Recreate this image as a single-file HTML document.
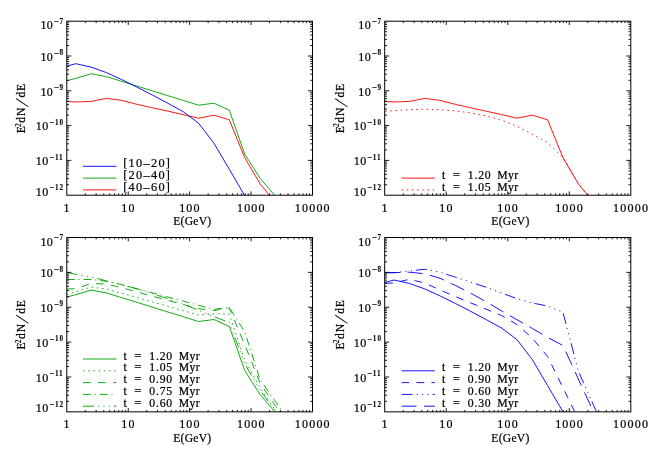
<!DOCTYPE html>
<html lang="en"><head><meta charset="utf-8"><title>E2dN/dE spectra</title>
<style>html,body{margin:0;padding:0;background:#fff}body{width:651px;height:454px;overflow:hidden}svg{display:block;will-change:transform}text{font-family:"Liberation Serif",serif;fill:#000000;stroke:#000000;stroke-width:0.22px}.s{font-weight:bold;stroke-width:0.1px}</style>
</head><body>
<svg width="651" height="454" viewBox="0 0 651 454">
<rect width="651" height="454" fill="#fff"/>
<g>
<clipPath id="c00"><rect x="66.8" y="21.2" width="245.7" height="174"/></clipPath>
<g clip-path="url(#c00)">
<path d="M66.8 101.4 L75.7 102 L91.06 101.4 L106.42 98.4 L121.78 100.4 L137.14 104.4 L152.5 107.8 L167.86 111.2 L183.22 114.6 L198.58 118.2 L213.94 115.2 L229.3 119.8 L244.66 157.6 L260.02 183.8 L275.38 202.6 L290.74 221.4" fill="none" stroke="#ff0000" stroke-width="0.92" stroke-linejoin="round"/>
<path d="M66.8 80.8 L75.7 78.4 L91.06 73.8 L106.42 76.6 L121.78 81.4 L137.14 86.1 L152.5 90.9 L167.86 95.7 L183.22 100.4 L198.58 105.2 L213.94 103.2 L229.3 110.2 L244.66 154.1 L260.02 178.2 L275.38 196.2 L290.74 214.2" fill="none" stroke="#00a400" stroke-width="0.92" stroke-linejoin="round"/>
<path d="M66.8 66.1 L75.7 63.7 L91.06 67.1 L106.42 72.6 L121.78 79.6 L137.14 87.2 L152.5 95.1 L167.86 103.3 L183.22 111.7 L198.58 123.2 L213.94 143.2 L229.3 169.3 L244.66 195.5 L260.02 221.7" fill="none" stroke="#0000ff" stroke-width="0.92" stroke-linejoin="round"/>
</g>
<path d="M85.29 195.2v-1.9M85.29 21.2v1.9M96.11 195.2v-1.9M96.11 21.2v1.9M103.78 195.2v-1.9M103.78 21.2v1.9M109.73 195.2v-1.9M109.73 21.2v1.9M114.6 195.2v-1.9M114.6 21.2v1.9M118.71 195.2v-1.9M118.71 21.2v1.9M122.27 195.2v-1.9M122.27 21.2v1.9M125.41 195.2v-1.9M125.41 21.2v1.9M128.22 195.2v-3.8M128.22 21.2v3.8M146.72 195.2v-1.9M146.72 21.2v1.9M157.53 195.2v-1.9M157.53 21.2v1.9M165.21 195.2v-1.9M165.21 21.2v1.9M171.16 195.2v-1.9M171.16 21.2v1.9M176.02 195.2v-1.9M176.02 21.2v1.9M180.14 195.2v-1.9M180.14 21.2v1.9M183.7 195.2v-1.9M183.7 21.2v1.9M186.84 195.2v-1.9M186.84 21.2v1.9M189.65 195.2v-3.8M189.65 21.2v3.8M208.14 195.2v-1.9M208.14 21.2v1.9M218.96 195.2v-1.9M218.96 21.2v1.9M226.63 195.2v-1.9M226.63 21.2v1.9M232.58 195.2v-1.9M232.58 21.2v1.9M237.45 195.2v-1.9M237.45 21.2v1.9M241.56 195.2v-1.9M241.56 21.2v1.9M245.12 195.2v-1.9M245.12 21.2v1.9M248.26 195.2v-1.9M248.26 21.2v1.9M251.07 195.2v-3.8M251.07 21.2v3.8M269.57 195.2v-1.9M269.57 21.2v1.9M280.38 195.2v-1.9M280.38 21.2v1.9M288.06 195.2v-1.9M288.06 21.2v1.9M294.01 195.2v-1.9M294.01 21.2v1.9M298.87 195.2v-1.9M298.87 21.2v1.9M302.99 195.2v-1.9M302.99 21.2v1.9M306.55 195.2v-1.9M306.55 21.2v1.9M309.69 195.2v-1.9M309.69 21.2v1.9M66.8 184.72h2.3M312.5 184.72h-2.3M66.8 178.6h2.3M312.5 178.6h-2.3M66.8 174.25h2.3M312.5 174.25h-2.3M66.8 170.88h2.3M312.5 170.88h-2.3M66.8 168.12h2.3M312.5 168.12h-2.3M66.8 165.79h2.3M312.5 165.79h-2.3M66.8 163.77h2.3M312.5 163.77h-2.3M66.8 161.99h2.3M312.5 161.99h-2.3M66.8 160.4h4.5M312.5 160.4h-4.5M66.8 149.92h2.3M312.5 149.92h-2.3M66.8 143.8h2.3M312.5 143.8h-2.3M66.8 139.45h2.3M312.5 139.45h-2.3M66.8 136.08h2.3M312.5 136.08h-2.3M66.8 133.32h2.3M312.5 133.32h-2.3M66.8 130.99h2.3M312.5 130.99h-2.3M66.8 128.97h2.3M312.5 128.97h-2.3M66.8 127.19h2.3M312.5 127.19h-2.3M66.8 125.6h4.5M312.5 125.6h-4.5M66.8 115.12h2.3M312.5 115.12h-2.3M66.8 109h2.3M312.5 109h-2.3M66.8 104.65h2.3M312.5 104.65h-2.3M66.8 101.28h2.3M312.5 101.28h-2.3M66.8 98.52h2.3M312.5 98.52h-2.3M66.8 96.19h2.3M312.5 96.19h-2.3M66.8 94.17h2.3M312.5 94.17h-2.3M66.8 92.39h2.3M312.5 92.39h-2.3M66.8 90.8h4.5M312.5 90.8h-4.5M66.8 80.32h2.3M312.5 80.32h-2.3M66.8 74.2h2.3M312.5 74.2h-2.3M66.8 69.85h2.3M312.5 69.85h-2.3M66.8 66.48h2.3M312.5 66.48h-2.3M66.8 63.72h2.3M312.5 63.72h-2.3M66.8 61.39h2.3M312.5 61.39h-2.3M66.8 59.37h2.3M312.5 59.37h-2.3M66.8 57.59h2.3M312.5 57.59h-2.3M66.8 56h4.5M312.5 56h-4.5M66.8 45.52h2.3M312.5 45.52h-2.3M66.8 39.4h2.3M312.5 39.4h-2.3M66.8 35.05h2.3M312.5 35.05h-2.3M66.8 31.68h2.3M312.5 31.68h-2.3M66.8 28.92h2.3M312.5 28.92h-2.3M66.8 26.59h2.3M312.5 26.59h-2.3M66.8 24.57h2.3M312.5 24.57h-2.3M66.8 22.79h2.3M312.5 22.79h-2.3" fill="none" stroke="#000000" stroke-width="0.9"/>
<rect x="66.8" y="21.2" width="245.7" height="174" fill="none" stroke="#000000" stroke-width="1.0"/>
<text x="40.47" y="29.2" font-size="12" letter-spacing="0.4">10</text>
<text x="53.8" y="24" font-size="7.2" textLength="5.0" lengthAdjust="spacingAndGlyphs" class="s">−</text>
<text x="59.5" y="23.7" font-size="7.2" letter-spacing="1" class="s">7</text>
<text x="40.47" y="60.7" font-size="12" letter-spacing="0.4">10</text>
<text x="53.8" y="55.5" font-size="7.2" textLength="5.0" lengthAdjust="spacingAndGlyphs" class="s">−</text>
<text x="59.5" y="55.2" font-size="7.2" letter-spacing="1" class="s">8</text>
<text x="40.47" y="95.5" font-size="12" letter-spacing="0.4">10</text>
<text x="53.8" y="90.3" font-size="7.2" textLength="5.0" lengthAdjust="spacingAndGlyphs" class="s">−</text>
<text x="59.5" y="90" font-size="7.2" letter-spacing="1" class="s">9</text>
<text x="35.87" y="130.3" font-size="12" letter-spacing="0.4">10</text>
<text x="49.2" y="125.1" font-size="7.2" textLength="5.0" lengthAdjust="spacingAndGlyphs" class="s">−</text>
<text x="54.9" y="124.8" font-size="7.2" letter-spacing="1" class="s">10</text>
<text x="35.87" y="165.1" font-size="12" letter-spacing="0.4">10</text>
<text x="49.2" y="159.9" font-size="7.2" textLength="5.0" lengthAdjust="spacingAndGlyphs" class="s">−</text>
<text x="54.9" y="159.6" font-size="7.2" letter-spacing="1" class="s">11</text>
<text x="35.87" y="195.5" font-size="12" letter-spacing="0.4">10</text>
<text x="49.2" y="190.3" font-size="7.2" textLength="5.0" lengthAdjust="spacingAndGlyphs" class="s">−</text>
<text x="54.9" y="190" font-size="7.2" letter-spacing="1" class="s">12</text>
<text x="67.1" y="211.6" font-size="12" text-anchor="middle" letter-spacing="1.2">1</text>
<text x="128.52" y="211.6" font-size="12" text-anchor="middle" letter-spacing="1.2">10</text>
<text x="189.95" y="211.6" font-size="12" text-anchor="middle" letter-spacing="1.2">100</text>
<text x="251.37" y="211.6" font-size="12" text-anchor="middle" letter-spacing="1.2">1000</text>
<text x="312.8" y="211.6" font-size="12" text-anchor="middle" letter-spacing="1.2">10000</text>
<text x="192.35" y="225" font-size="11.6" text-anchor="middle" letter-spacing="0.25">E(GeV)</text>
<g transform="translate(25.2 133) rotate(-90)" font-size="11.6">
<text x="-0.2" y="0">E</text>
<text x="6.0" y="-4.4" font-size="7.5">2</text>
<text x="10.2" y="0" letter-spacing="1.1">dN</text>
<text transform="translate(25.9 3.0) skewX(-18)" font-size="17.6" style="stroke-width:0.25px">/</text>
<text x="35.6" y="0" letter-spacing="0.6">dE</text>
</g>
<path d="M83 166.3H116.4" fill="none" stroke="#0000ff" stroke-width="0.92"/>
<text x="123.2" y="167.2" font-size="12.3" letter-spacing="1.3">[10–20]</text>
<path d="M83 178.1H116.4" fill="none" stroke="#00a400" stroke-width="0.92"/>
<text x="123.2" y="179" font-size="12.3" letter-spacing="1.3">[20–40]</text>
<path d="M83 189.9H116.4" fill="none" stroke="#ff0000" stroke-width="0.92"/>
<text x="123.2" y="190.8" font-size="12.3" letter-spacing="1.3">[40–60]</text>
</g>
<g>
<clipPath id="c10"><rect x="384.7" y="21.2" width="246.1" height="174"/></clipPath>
<g clip-path="url(#c10)">
<path d="M385.1 111.2 L394 110.6 L409.36 109.7 L424.72 109.2 L440.08 109.6 L455.44 110.9 L470.8 112.9 L486.16 115.8 L501.52 120.2 L516.88 126.2 L532.24 134.2 L547.6 142.6 L562.96 157.6 L578.32 183.8 L593.68 202.6 L609.04 221.4" fill="none" stroke="#ff0000" stroke-width="0.92" stroke-linejoin="round" stroke-dasharray="1.5 3.7"/>
<path d="M385.1 101.4 L394 102 L409.36 101.4 L424.72 98.4 L440.08 100.4 L455.44 104.4 L470.8 107.8 L486.16 111.2 L501.52 114.6 L516.88 118.2 L532.24 115.2 L547.6 119.8 L562.96 157.6 L578.32 183.8 L593.68 202.6 L609.04 221.4" fill="none" stroke="#ff0000" stroke-width="0.92" stroke-linejoin="round"/>
</g>
<path d="M403.22 195.2v-1.9M403.22 21.2v1.9M414.05 195.2v-1.9M414.05 21.2v1.9M421.74 195.2v-1.9M421.74 21.2v1.9M427.7 195.2v-1.9M427.7 21.2v1.9M432.58 195.2v-1.9M432.58 21.2v1.9M436.69 195.2v-1.9M436.69 21.2v1.9M440.26 195.2v-1.9M440.26 21.2v1.9M443.41 195.2v-1.9M443.41 21.2v1.9M446.22 195.2v-3.8M446.22 21.2v3.8M464.75 195.2v-1.9M464.75 21.2v1.9M475.58 195.2v-1.9M475.58 21.2v1.9M483.27 195.2v-1.9M483.27 21.2v1.9M489.23 195.2v-1.9M489.23 21.2v1.9M494.1 195.2v-1.9M494.1 21.2v1.9M498.22 195.2v-1.9M498.22 21.2v1.9M501.79 195.2v-1.9M501.79 21.2v1.9M504.93 195.2v-1.9M504.93 21.2v1.9M507.75 195.2v-3.8M507.75 21.2v3.8M526.27 195.2v-1.9M526.27 21.2v1.9M537.1 195.2v-1.9M537.1 21.2v1.9M544.79 195.2v-1.9M544.79 21.2v1.9M550.75 195.2v-1.9M550.75 21.2v1.9M555.63 195.2v-1.9M555.63 21.2v1.9M559.74 195.2v-1.9M559.74 21.2v1.9M563.31 195.2v-1.9M563.31 21.2v1.9M566.46 195.2v-1.9M566.46 21.2v1.9M569.27 195.2v-3.8M569.27 21.2v3.8M587.8 195.2v-1.9M587.8 21.2v1.9M598.63 195.2v-1.9M598.63 21.2v1.9M606.32 195.2v-1.9M606.32 21.2v1.9M612.28 195.2v-1.9M612.28 21.2v1.9M617.15 195.2v-1.9M617.15 21.2v1.9M621.27 195.2v-1.9M621.27 21.2v1.9M624.84 195.2v-1.9M624.84 21.2v1.9M627.98 195.2v-1.9M627.98 21.2v1.9M384.7 184.72h2.3M630.8 184.72h-2.3M384.7 178.6h2.3M630.8 178.6h-2.3M384.7 174.25h2.3M630.8 174.25h-2.3M384.7 170.88h2.3M630.8 170.88h-2.3M384.7 168.12h2.3M630.8 168.12h-2.3M384.7 165.79h2.3M630.8 165.79h-2.3M384.7 163.77h2.3M630.8 163.77h-2.3M384.7 161.99h2.3M630.8 161.99h-2.3M384.7 160.4h4.5M630.8 160.4h-4.5M384.7 149.92h2.3M630.8 149.92h-2.3M384.7 143.8h2.3M630.8 143.8h-2.3M384.7 139.45h2.3M630.8 139.45h-2.3M384.7 136.08h2.3M630.8 136.08h-2.3M384.7 133.32h2.3M630.8 133.32h-2.3M384.7 130.99h2.3M630.8 130.99h-2.3M384.7 128.97h2.3M630.8 128.97h-2.3M384.7 127.19h2.3M630.8 127.19h-2.3M384.7 125.6h4.5M630.8 125.6h-4.5M384.7 115.12h2.3M630.8 115.12h-2.3M384.7 109h2.3M630.8 109h-2.3M384.7 104.65h2.3M630.8 104.65h-2.3M384.7 101.28h2.3M630.8 101.28h-2.3M384.7 98.52h2.3M630.8 98.52h-2.3M384.7 96.19h2.3M630.8 96.19h-2.3M384.7 94.17h2.3M630.8 94.17h-2.3M384.7 92.39h2.3M630.8 92.39h-2.3M384.7 90.8h4.5M630.8 90.8h-4.5M384.7 80.32h2.3M630.8 80.32h-2.3M384.7 74.2h2.3M630.8 74.2h-2.3M384.7 69.85h2.3M630.8 69.85h-2.3M384.7 66.48h2.3M630.8 66.48h-2.3M384.7 63.72h2.3M630.8 63.72h-2.3M384.7 61.39h2.3M630.8 61.39h-2.3M384.7 59.37h2.3M630.8 59.37h-2.3M384.7 57.59h2.3M630.8 57.59h-2.3M384.7 56h4.5M630.8 56h-4.5M384.7 45.52h2.3M630.8 45.52h-2.3M384.7 39.4h2.3M630.8 39.4h-2.3M384.7 35.05h2.3M630.8 35.05h-2.3M384.7 31.68h2.3M630.8 31.68h-2.3M384.7 28.92h2.3M630.8 28.92h-2.3M384.7 26.59h2.3M630.8 26.59h-2.3M384.7 24.57h2.3M630.8 24.57h-2.3M384.7 22.79h2.3M630.8 22.79h-2.3" fill="none" stroke="#000000" stroke-width="0.9"/>
<rect x="384.7" y="21.2" width="246.1" height="174" fill="none" stroke="#000000" stroke-width="1.0"/>
<text x="358.37" y="29.2" font-size="12" letter-spacing="0.4">10</text>
<text x="371.7" y="24" font-size="7.2" textLength="5.0" lengthAdjust="spacingAndGlyphs" class="s">−</text>
<text x="377.4" y="23.7" font-size="7.2" letter-spacing="1" class="s">7</text>
<text x="358.37" y="60.7" font-size="12" letter-spacing="0.4">10</text>
<text x="371.7" y="55.5" font-size="7.2" textLength="5.0" lengthAdjust="spacingAndGlyphs" class="s">−</text>
<text x="377.4" y="55.2" font-size="7.2" letter-spacing="1" class="s">8</text>
<text x="358.37" y="95.5" font-size="12" letter-spacing="0.4">10</text>
<text x="371.7" y="90.3" font-size="7.2" textLength="5.0" lengthAdjust="spacingAndGlyphs" class="s">−</text>
<text x="377.4" y="90" font-size="7.2" letter-spacing="1" class="s">9</text>
<text x="353.77" y="130.3" font-size="12" letter-spacing="0.4">10</text>
<text x="367.1" y="125.1" font-size="7.2" textLength="5.0" lengthAdjust="spacingAndGlyphs" class="s">−</text>
<text x="372.8" y="124.8" font-size="7.2" letter-spacing="1" class="s">10</text>
<text x="353.77" y="165.1" font-size="12" letter-spacing="0.4">10</text>
<text x="367.1" y="159.9" font-size="7.2" textLength="5.0" lengthAdjust="spacingAndGlyphs" class="s">−</text>
<text x="372.8" y="159.6" font-size="7.2" letter-spacing="1" class="s">11</text>
<text x="353.77" y="195.5" font-size="12" letter-spacing="0.4">10</text>
<text x="367.1" y="190.3" font-size="7.2" textLength="5.0" lengthAdjust="spacingAndGlyphs" class="s">−</text>
<text x="372.8" y="190" font-size="7.2" letter-spacing="1" class="s">12</text>
<text x="385" y="211.6" font-size="12" text-anchor="middle" letter-spacing="1.2">1</text>
<text x="446.52" y="211.6" font-size="12" text-anchor="middle" letter-spacing="1.2">10</text>
<text x="508.05" y="211.6" font-size="12" text-anchor="middle" letter-spacing="1.2">100</text>
<text x="569.58" y="211.6" font-size="12" text-anchor="middle" letter-spacing="1.2">1000</text>
<text x="631.1" y="211.6" font-size="12" text-anchor="middle" letter-spacing="1.2">10000</text>
<text x="510.45" y="225" font-size="11.6" text-anchor="middle" letter-spacing="0.25">E(GeV)</text>
<g transform="translate(343.6 133) rotate(-90)" font-size="11.6">
<text x="-0.2" y="0">E</text>
<text x="6.0" y="-4.4" font-size="7.5">2</text>
<text x="10.2" y="0" letter-spacing="1.1">dN</text>
<text transform="translate(25.9 3.0) skewX(-18)" font-size="17.6" style="stroke-width:0.25px">/</text>
<text x="35.6" y="0" letter-spacing="0.6">dE</text>
</g>
<path d="M401.5 178.1H434.9" fill="none" stroke="#ff0000" stroke-width="0.92"/>
<text x="441.9" y="178.7" font-size="11.7">t</text>
<text x="452.8" y="178.7" font-size="11.7" textLength="7.2" lengthAdjust="spacingAndGlyphs">=</text>
<text x="467.7" y="178.7" font-size="11.7" letter-spacing="0.85">1.20</text>
<text x="497.3" y="178.7" font-size="11.7" letter-spacing="0.35">Myr</text>
<path d="M401.5 189.9H434.9" fill="none" stroke="#ff0000" stroke-width="0.92" stroke-dasharray="1.5 3.7"/>
<text x="441.9" y="190.5" font-size="11.7">t</text>
<text x="452.8" y="190.5" font-size="11.7" textLength="7.2" lengthAdjust="spacingAndGlyphs">=</text>
<text x="467.7" y="190.5" font-size="11.7" letter-spacing="0.85">1.05</text>
<text x="497.3" y="190.5" font-size="11.7" letter-spacing="0.35">Myr</text>
</g>
<g>
<clipPath id="c01"><rect x="66.8" y="237.5" width="245.7" height="174.35"/></clipPath>
<g clip-path="url(#c01)">
<path d="M66.8 297.1 L75.7 294.7 L91.06 290.1 L106.42 292.9 L121.78 297.7 L137.14 302.4 L152.5 307.2 L167.86 312 L183.22 316.7 L198.58 321.5 L213.94 319.5 L229.3 326.5 L244.66 370.4 L260.02 394.5 L275.38 412.5 L290.74 430.5" fill="none" stroke="#00a400" stroke-width="0.92" stroke-linejoin="round"/>
<path d="M66.8 294.5 L75.7 291.9 L91.06 287.1 L106.42 289 L121.78 293.3 L137.14 297.7 L152.5 302 L167.86 306.3 L183.22 310.7 L198.58 315 L213.94 313.7 L229.3 314.3 L244.66 359.9 L260.02 387.8 L275.38 410.3 L290.74 432.8" fill="none" stroke="#00a400" stroke-width="0.92" stroke-linejoin="round" stroke-dasharray="1.5 3.7"/>
<path d="M66.8 289.1 L75.7 288.6 L91.06 283.5 L106.42 284 L121.78 287.8 L137.14 292 L152.5 296.2 L167.86 300.4 L183.22 304.5 L198.58 308.7 L213.94 310.5 L229.3 308 L244.66 344.5 L260.02 383 L275.38 405.6 L290.74 428.2" fill="none" stroke="#00a400" stroke-width="0.92" stroke-linejoin="round" stroke-dasharray="7.7 7.3"/>
<path d="M66.8 279.5 L75.7 279.5 L91.06 279.5 L106.42 281.3 L121.78 284.7 L137.14 288.8 L152.5 292.9 L167.86 297.05 L183.22 301.15 L198.58 305.3 L213.94 309.4 L229.3 307.4 L244.66 331.7 L260.02 379.4 L275.38 401.4 L290.74 423.5" fill="none" stroke="#00a400" stroke-width="0.92" stroke-linejoin="round" stroke-dasharray="7.9 3.7 1.1 4.1"/>
<path d="M66.8 272.4 L75.7 274.2 L91.06 277 L106.42 280.9 L121.78 284.65 L137.14 288.9 L152.5 293.7 L167.86 298.8 L183.22 304.3 L198.58 310.2 L213.94 316.6 L229.3 322.5 L244.66 363.5 L260.02 390.3 L275.38 410.7 L290.74 431.1" fill="none" stroke="#00a400" stroke-width="0.92" stroke-linejoin="round" stroke-dasharray="11 4 1.1 4.4 1.1 4.4 1.1 3.9"/>
</g>
<path d="M85.29 411.85v-1.9M85.29 237.5v1.9M96.11 411.85v-1.9M96.11 237.5v1.9M103.78 411.85v-1.9M103.78 237.5v1.9M109.73 411.85v-1.9M109.73 237.5v1.9M114.6 411.85v-1.9M114.6 237.5v1.9M118.71 411.85v-1.9M118.71 237.5v1.9M122.27 411.85v-1.9M122.27 237.5v1.9M125.41 411.85v-1.9M125.41 237.5v1.9M128.22 411.85v-3.8M128.22 237.5v3.8M146.72 411.85v-1.9M146.72 237.5v1.9M157.53 411.85v-1.9M157.53 237.5v1.9M165.21 411.85v-1.9M165.21 237.5v1.9M171.16 411.85v-1.9M171.16 237.5v1.9M176.02 411.85v-1.9M176.02 237.5v1.9M180.14 411.85v-1.9M180.14 237.5v1.9M183.7 411.85v-1.9M183.7 237.5v1.9M186.84 411.85v-1.9M186.84 237.5v1.9M189.65 411.85v-3.8M189.65 237.5v3.8M208.14 411.85v-1.9M208.14 237.5v1.9M218.96 411.85v-1.9M218.96 237.5v1.9M226.63 411.85v-1.9M226.63 237.5v1.9M232.58 411.85v-1.9M232.58 237.5v1.9M237.45 411.85v-1.9M237.45 237.5v1.9M241.56 411.85v-1.9M241.56 237.5v1.9M245.12 411.85v-1.9M245.12 237.5v1.9M248.26 411.85v-1.9M248.26 237.5v1.9M251.07 411.85v-3.8M251.07 237.5v3.8M269.57 411.85v-1.9M269.57 237.5v1.9M280.38 411.85v-1.9M280.38 237.5v1.9M288.06 411.85v-1.9M288.06 237.5v1.9M294.01 411.85v-1.9M294.01 237.5v1.9M298.87 411.85v-1.9M298.87 237.5v1.9M302.99 411.85v-1.9M302.99 237.5v1.9M306.55 411.85v-1.9M306.55 237.5v1.9M309.69 411.85v-1.9M309.69 237.5v1.9M66.8 401.35h2.3M312.5 401.35h-2.3M66.8 395.21h2.3M312.5 395.21h-2.3M66.8 390.86h2.3M312.5 390.86h-2.3M66.8 387.48h2.3M312.5 387.48h-2.3M66.8 384.72h2.3M312.5 384.72h-2.3M66.8 382.38h2.3M312.5 382.38h-2.3M66.8 380.36h2.3M312.5 380.36h-2.3M66.8 378.58h2.3M312.5 378.58h-2.3M66.8 376.98h4.5M312.5 376.98h-4.5M66.8 366.48h2.3M312.5 366.48h-2.3M66.8 360.34h2.3M312.5 360.34h-2.3M66.8 355.99h2.3M312.5 355.99h-2.3M66.8 352.61h2.3M312.5 352.61h-2.3M66.8 349.85h2.3M312.5 349.85h-2.3M66.8 347.51h2.3M312.5 347.51h-2.3M66.8 345.49h2.3M312.5 345.49h-2.3M66.8 343.71h2.3M312.5 343.71h-2.3M66.8 342.11h4.5M312.5 342.11h-4.5M66.8 331.61h2.3M312.5 331.61h-2.3M66.8 325.47h2.3M312.5 325.47h-2.3M66.8 321.12h2.3M312.5 321.12h-2.3M66.8 317.74h2.3M312.5 317.74h-2.3M66.8 314.98h2.3M312.5 314.98h-2.3M66.8 312.64h2.3M312.5 312.64h-2.3M66.8 310.62h2.3M312.5 310.62h-2.3M66.8 308.84h2.3M312.5 308.84h-2.3M66.8 307.24h4.5M312.5 307.24h-4.5M66.8 296.74h2.3M312.5 296.74h-2.3M66.8 290.6h2.3M312.5 290.6h-2.3M66.8 286.25h2.3M312.5 286.25h-2.3M66.8 282.87h2.3M312.5 282.87h-2.3M66.8 280.11h2.3M312.5 280.11h-2.3M66.8 277.77h2.3M312.5 277.77h-2.3M66.8 275.75h2.3M312.5 275.75h-2.3M66.8 273.97h2.3M312.5 273.97h-2.3M66.8 272.37h4.5M312.5 272.37h-4.5M66.8 261.87h2.3M312.5 261.87h-2.3M66.8 255.73h2.3M312.5 255.73h-2.3M66.8 251.38h2.3M312.5 251.38h-2.3M66.8 248h2.3M312.5 248h-2.3M66.8 245.24h2.3M312.5 245.24h-2.3M66.8 242.9h2.3M312.5 242.9h-2.3M66.8 240.88h2.3M312.5 240.88h-2.3M66.8 239.1h2.3M312.5 239.1h-2.3" fill="none" stroke="#000000" stroke-width="0.9"/>
<rect x="66.8" y="237.5" width="245.7" height="174.35" fill="none" stroke="#000000" stroke-width="1.0"/>
<text x="40.47" y="245.5" font-size="12" letter-spacing="0.4">10</text>
<text x="53.8" y="240.3" font-size="7.2" textLength="5.0" lengthAdjust="spacingAndGlyphs" class="s">−</text>
<text x="59.5" y="240" font-size="7.2" letter-spacing="1" class="s">7</text>
<text x="40.47" y="277.07" font-size="12" letter-spacing="0.4">10</text>
<text x="53.8" y="271.87" font-size="7.2" textLength="5.0" lengthAdjust="spacingAndGlyphs" class="s">−</text>
<text x="59.5" y="271.57" font-size="7.2" letter-spacing="1" class="s">8</text>
<text x="40.47" y="311.94" font-size="12" letter-spacing="0.4">10</text>
<text x="53.8" y="306.74" font-size="7.2" textLength="5.0" lengthAdjust="spacingAndGlyphs" class="s">−</text>
<text x="59.5" y="306.44" font-size="7.2" letter-spacing="1" class="s">9</text>
<text x="35.87" y="346.81" font-size="12" letter-spacing="0.4">10</text>
<text x="49.2" y="341.61" font-size="7.2" textLength="5.0" lengthAdjust="spacingAndGlyphs" class="s">−</text>
<text x="54.9" y="341.31" font-size="7.2" letter-spacing="1" class="s">10</text>
<text x="35.87" y="381.68" font-size="12" letter-spacing="0.4">10</text>
<text x="49.2" y="376.48" font-size="7.2" textLength="5.0" lengthAdjust="spacingAndGlyphs" class="s">−</text>
<text x="54.9" y="376.18" font-size="7.2" letter-spacing="1" class="s">11</text>
<text x="35.87" y="412.15" font-size="12" letter-spacing="0.4">10</text>
<text x="49.2" y="406.95" font-size="7.2" textLength="5.0" lengthAdjust="spacingAndGlyphs" class="s">−</text>
<text x="54.9" y="406.65" font-size="7.2" letter-spacing="1" class="s">12</text>
<text x="67.1" y="428.25" font-size="12" text-anchor="middle" letter-spacing="1.2">1</text>
<text x="128.52" y="428.25" font-size="12" text-anchor="middle" letter-spacing="1.2">10</text>
<text x="189.95" y="428.25" font-size="12" text-anchor="middle" letter-spacing="1.2">100</text>
<text x="251.37" y="428.25" font-size="12" text-anchor="middle" letter-spacing="1.2">1000</text>
<text x="312.8" y="428.25" font-size="12" text-anchor="middle" letter-spacing="1.2">10000</text>
<text x="192.35" y="441.65" font-size="11.6" text-anchor="middle" letter-spacing="0.25">E(GeV)</text>
<g transform="translate(25.2 349.3) rotate(-90)" font-size="11.6">
<text x="-0.2" y="0">E</text>
<text x="6.0" y="-4.4" font-size="7.5">2</text>
<text x="10.2" y="0" letter-spacing="1.1">dN</text>
<text transform="translate(25.9 3.0) skewX(-18)" font-size="17.6" style="stroke-width:0.25px">/</text>
<text x="35.6" y="0" letter-spacing="0.6">dE</text>
</g>
<path d="M83 359H116.4" fill="none" stroke="#00a400" stroke-width="0.92"/>
<text x="123.4" y="359.6" font-size="11.7">t</text>
<text x="134.3" y="359.6" font-size="11.7" textLength="7.2" lengthAdjust="spacingAndGlyphs">=</text>
<text x="149.2" y="359.6" font-size="11.7" letter-spacing="0.85">1.20</text>
<text x="178.8" y="359.6" font-size="11.7" letter-spacing="0.35">Myr</text>
<path d="M83 370.8H116.4" fill="none" stroke="#00a400" stroke-width="0.92" stroke-dasharray="1.5 3.7"/>
<text x="123.4" y="371.4" font-size="11.7">t</text>
<text x="134.3" y="371.4" font-size="11.7" textLength="7.2" lengthAdjust="spacingAndGlyphs">=</text>
<text x="149.2" y="371.4" font-size="11.7" letter-spacing="0.85">1.05</text>
<text x="178.8" y="371.4" font-size="11.7" letter-spacing="0.35">Myr</text>
<path d="M83 382.6H116.4" fill="none" stroke="#00a400" stroke-width="0.92" stroke-dasharray="7.7 7.3"/>
<text x="123.4" y="383.2" font-size="11.7">t</text>
<text x="134.3" y="383.2" font-size="11.7" textLength="7.2" lengthAdjust="spacingAndGlyphs">=</text>
<text x="149.2" y="383.2" font-size="11.7" letter-spacing="0.85">0.90</text>
<text x="178.8" y="383.2" font-size="11.7" letter-spacing="0.35">Myr</text>
<path d="M83 394.4H116.4" fill="none" stroke="#00a400" stroke-width="0.92" stroke-dasharray="7.9 3.7 1.1 4.1"/>
<text x="123.4" y="395" font-size="11.7">t</text>
<text x="134.3" y="395" font-size="11.7" textLength="7.2" lengthAdjust="spacingAndGlyphs">=</text>
<text x="149.2" y="395" font-size="11.7" letter-spacing="0.85">0.75</text>
<text x="178.8" y="395" font-size="11.7" letter-spacing="0.35">Myr</text>
<path d="M83 406.2H116.4" fill="none" stroke="#00a400" stroke-width="0.92" stroke-dasharray="11 4 1.1 4.4 1.1 4.4 1.1 3.9"/>
<text x="123.4" y="406.8" font-size="11.7">t</text>
<text x="134.3" y="406.8" font-size="11.7" textLength="7.2" lengthAdjust="spacingAndGlyphs">=</text>
<text x="149.2" y="406.8" font-size="11.7" letter-spacing="0.85">0.60</text>
<text x="178.8" y="406.8" font-size="11.7" letter-spacing="0.35">Myr</text>
</g>
<g>
<clipPath id="c11"><rect x="384.7" y="237.5" width="246.1" height="174.35"/></clipPath>
<g clip-path="url(#c11)">
<path d="M385.1 282.4 L394 280 L409.36 283.4 L424.72 288.9 L440.08 295.9 L455.44 303.5 L470.8 311.4 L486.16 319.6 L501.52 328 L516.88 339.5 L532.24 359.5 L547.6 385.6 L562.96 411.8 L578.32 438" fill="none" stroke="#0000ff" stroke-width="0.92" stroke-linejoin="round"/>
<path d="M385.1 283.3 L394 283 L409.36 279.3 L424.72 283 L440.08 290 L455.44 296.6 L470.8 302.9 L486.16 309.2 L501.52 315.5 L516.88 324.5 L532.24 338 L547.6 356.5 L562.96 387.8 L578.32 419" fill="none" stroke="#0000ff" stroke-width="0.92" stroke-linejoin="round" stroke-dasharray="7.7 7.3"/>
<path d="M385.1 272.7 L394 272.7 L409.36 271 L424.72 269.2 L440.08 272.2 L455.44 277.2 L470.8 282.2 L486.16 287.3 L501.52 293 L516.88 298.6 L532.24 303 L547.6 306 L562.96 312.3 L578.32 371 L593.68 405.6 L609.04 440.1" fill="none" stroke="#0000ff" stroke-width="0.92" stroke-linejoin="round" stroke-dasharray="11 4 1.1 4.4 1.1 4.4 1.1 3.9"/>
<path d="M385.1 272.7 L394 272.6 L409.36 272.2 L424.72 273.8 L440.08 278.2 L455.44 285.5 L470.8 293.2 L486.16 301.8 L501.52 310.8 L516.88 319.7 L532.24 328.4 L547.6 337.4 L562.96 345.5 L578.32 378.9 L593.68 412.3 L609.04 445.7" fill="none" stroke="#0000ff" stroke-width="0.92" stroke-linejoin="round" stroke-dasharray="15 7.5"/>
</g>
<path d="M403.22 411.85v-1.9M403.22 237.5v1.9M414.05 411.85v-1.9M414.05 237.5v1.9M421.74 411.85v-1.9M421.74 237.5v1.9M427.7 411.85v-1.9M427.7 237.5v1.9M432.58 411.85v-1.9M432.58 237.5v1.9M436.69 411.85v-1.9M436.69 237.5v1.9M440.26 411.85v-1.9M440.26 237.5v1.9M443.41 411.85v-1.9M443.41 237.5v1.9M446.22 411.85v-3.8M446.22 237.5v3.8M464.75 411.85v-1.9M464.75 237.5v1.9M475.58 411.85v-1.9M475.58 237.5v1.9M483.27 411.85v-1.9M483.27 237.5v1.9M489.23 411.85v-1.9M489.23 237.5v1.9M494.1 411.85v-1.9M494.1 237.5v1.9M498.22 411.85v-1.9M498.22 237.5v1.9M501.79 411.85v-1.9M501.79 237.5v1.9M504.93 411.85v-1.9M504.93 237.5v1.9M507.75 411.85v-3.8M507.75 237.5v3.8M526.27 411.85v-1.9M526.27 237.5v1.9M537.1 411.85v-1.9M537.1 237.5v1.9M544.79 411.85v-1.9M544.79 237.5v1.9M550.75 411.85v-1.9M550.75 237.5v1.9M555.63 411.85v-1.9M555.63 237.5v1.9M559.74 411.85v-1.9M559.74 237.5v1.9M563.31 411.85v-1.9M563.31 237.5v1.9M566.46 411.85v-1.9M566.46 237.5v1.9M569.27 411.85v-3.8M569.27 237.5v3.8M587.8 411.85v-1.9M587.8 237.5v1.9M598.63 411.85v-1.9M598.63 237.5v1.9M606.32 411.85v-1.9M606.32 237.5v1.9M612.28 411.85v-1.9M612.28 237.5v1.9M617.15 411.85v-1.9M617.15 237.5v1.9M621.27 411.85v-1.9M621.27 237.5v1.9M624.84 411.85v-1.9M624.84 237.5v1.9M627.98 411.85v-1.9M627.98 237.5v1.9M384.7 401.35h2.3M630.8 401.35h-2.3M384.7 395.21h2.3M630.8 395.21h-2.3M384.7 390.86h2.3M630.8 390.86h-2.3M384.7 387.48h2.3M630.8 387.48h-2.3M384.7 384.72h2.3M630.8 384.72h-2.3M384.7 382.38h2.3M630.8 382.38h-2.3M384.7 380.36h2.3M630.8 380.36h-2.3M384.7 378.58h2.3M630.8 378.58h-2.3M384.7 376.98h4.5M630.8 376.98h-4.5M384.7 366.48h2.3M630.8 366.48h-2.3M384.7 360.34h2.3M630.8 360.34h-2.3M384.7 355.99h2.3M630.8 355.99h-2.3M384.7 352.61h2.3M630.8 352.61h-2.3M384.7 349.85h2.3M630.8 349.85h-2.3M384.7 347.51h2.3M630.8 347.51h-2.3M384.7 345.49h2.3M630.8 345.49h-2.3M384.7 343.71h2.3M630.8 343.71h-2.3M384.7 342.11h4.5M630.8 342.11h-4.5M384.7 331.61h2.3M630.8 331.61h-2.3M384.7 325.47h2.3M630.8 325.47h-2.3M384.7 321.12h2.3M630.8 321.12h-2.3M384.7 317.74h2.3M630.8 317.74h-2.3M384.7 314.98h2.3M630.8 314.98h-2.3M384.7 312.64h2.3M630.8 312.64h-2.3M384.7 310.62h2.3M630.8 310.62h-2.3M384.7 308.84h2.3M630.8 308.84h-2.3M384.7 307.24h4.5M630.8 307.24h-4.5M384.7 296.74h2.3M630.8 296.74h-2.3M384.7 290.6h2.3M630.8 290.6h-2.3M384.7 286.25h2.3M630.8 286.25h-2.3M384.7 282.87h2.3M630.8 282.87h-2.3M384.7 280.11h2.3M630.8 280.11h-2.3M384.7 277.77h2.3M630.8 277.77h-2.3M384.7 275.75h2.3M630.8 275.75h-2.3M384.7 273.97h2.3M630.8 273.97h-2.3M384.7 272.37h4.5M630.8 272.37h-4.5M384.7 261.87h2.3M630.8 261.87h-2.3M384.7 255.73h2.3M630.8 255.73h-2.3M384.7 251.38h2.3M630.8 251.38h-2.3M384.7 248h2.3M630.8 248h-2.3M384.7 245.24h2.3M630.8 245.24h-2.3M384.7 242.9h2.3M630.8 242.9h-2.3M384.7 240.88h2.3M630.8 240.88h-2.3M384.7 239.1h2.3M630.8 239.1h-2.3" fill="none" stroke="#000000" stroke-width="0.9"/>
<rect x="384.7" y="237.5" width="246.1" height="174.35" fill="none" stroke="#000000" stroke-width="1.0"/>
<text x="358.37" y="245.5" font-size="12" letter-spacing="0.4">10</text>
<text x="371.7" y="240.3" font-size="7.2" textLength="5.0" lengthAdjust="spacingAndGlyphs" class="s">−</text>
<text x="377.4" y="240" font-size="7.2" letter-spacing="1" class="s">7</text>
<text x="358.37" y="277.07" font-size="12" letter-spacing="0.4">10</text>
<text x="371.7" y="271.87" font-size="7.2" textLength="5.0" lengthAdjust="spacingAndGlyphs" class="s">−</text>
<text x="377.4" y="271.57" font-size="7.2" letter-spacing="1" class="s">8</text>
<text x="358.37" y="311.94" font-size="12" letter-spacing="0.4">10</text>
<text x="371.7" y="306.74" font-size="7.2" textLength="5.0" lengthAdjust="spacingAndGlyphs" class="s">−</text>
<text x="377.4" y="306.44" font-size="7.2" letter-spacing="1" class="s">9</text>
<text x="353.77" y="346.81" font-size="12" letter-spacing="0.4">10</text>
<text x="367.1" y="341.61" font-size="7.2" textLength="5.0" lengthAdjust="spacingAndGlyphs" class="s">−</text>
<text x="372.8" y="341.31" font-size="7.2" letter-spacing="1" class="s">10</text>
<text x="353.77" y="381.68" font-size="12" letter-spacing="0.4">10</text>
<text x="367.1" y="376.48" font-size="7.2" textLength="5.0" lengthAdjust="spacingAndGlyphs" class="s">−</text>
<text x="372.8" y="376.18" font-size="7.2" letter-spacing="1" class="s">11</text>
<text x="353.77" y="412.15" font-size="12" letter-spacing="0.4">10</text>
<text x="367.1" y="406.95" font-size="7.2" textLength="5.0" lengthAdjust="spacingAndGlyphs" class="s">−</text>
<text x="372.8" y="406.65" font-size="7.2" letter-spacing="1" class="s">12</text>
<text x="385" y="428.25" font-size="12" text-anchor="middle" letter-spacing="1.2">1</text>
<text x="446.52" y="428.25" font-size="12" text-anchor="middle" letter-spacing="1.2">10</text>
<text x="508.05" y="428.25" font-size="12" text-anchor="middle" letter-spacing="1.2">100</text>
<text x="569.58" y="428.25" font-size="12" text-anchor="middle" letter-spacing="1.2">1000</text>
<text x="631.1" y="428.25" font-size="12" text-anchor="middle" letter-spacing="1.2">10000</text>
<text x="510.45" y="441.65" font-size="11.6" text-anchor="middle" letter-spacing="0.25">E(GeV)</text>
<g transform="translate(343.6 349.3) rotate(-90)" font-size="11.6">
<text x="-0.2" y="0">E</text>
<text x="6.0" y="-4.4" font-size="7.5">2</text>
<text x="10.2" y="0" letter-spacing="1.1">dN</text>
<text transform="translate(25.9 3.0) skewX(-18)" font-size="17.6" style="stroke-width:0.25px">/</text>
<text x="35.6" y="0" letter-spacing="0.6">dE</text>
</g>
<path d="M401.5 370.8H434.9" fill="none" stroke="#0000ff" stroke-width="0.92"/>
<text x="441.9" y="371.4" font-size="11.7">t</text>
<text x="452.8" y="371.4" font-size="11.7" textLength="7.2" lengthAdjust="spacingAndGlyphs">=</text>
<text x="467.7" y="371.4" font-size="11.7" letter-spacing="0.85">1.20</text>
<text x="497.3" y="371.4" font-size="11.7" letter-spacing="0.35">Myr</text>
<path d="M401.5 382.6H434.9" fill="none" stroke="#0000ff" stroke-width="0.92" stroke-dasharray="7.7 7.3"/>
<text x="441.9" y="383.2" font-size="11.7">t</text>
<text x="452.8" y="383.2" font-size="11.7" textLength="7.2" lengthAdjust="spacingAndGlyphs">=</text>
<text x="467.7" y="383.2" font-size="11.7" letter-spacing="0.85">0.90</text>
<text x="497.3" y="383.2" font-size="11.7" letter-spacing="0.35">Myr</text>
<path d="M401.5 394.4H434.9" fill="none" stroke="#0000ff" stroke-width="0.92" stroke-dasharray="11 4 1.1 4.4 1.1 4.4 1.1 3.9"/>
<text x="441.9" y="395" font-size="11.7">t</text>
<text x="452.8" y="395" font-size="11.7" textLength="7.2" lengthAdjust="spacingAndGlyphs">=</text>
<text x="467.7" y="395" font-size="11.7" letter-spacing="0.85">0.60</text>
<text x="497.3" y="395" font-size="11.7" letter-spacing="0.35">Myr</text>
<path d="M401.5 406.2H434.9" fill="none" stroke="#0000ff" stroke-width="0.92" stroke-dasharray="15 7.5"/>
<text x="441.9" y="406.8" font-size="11.7">t</text>
<text x="452.8" y="406.8" font-size="11.7" textLength="7.2" lengthAdjust="spacingAndGlyphs">=</text>
<text x="467.7" y="406.8" font-size="11.7" letter-spacing="0.85">0.30</text>
<text x="497.3" y="406.8" font-size="11.7" letter-spacing="0.35">Myr</text>
</g>
</svg></body></html>
